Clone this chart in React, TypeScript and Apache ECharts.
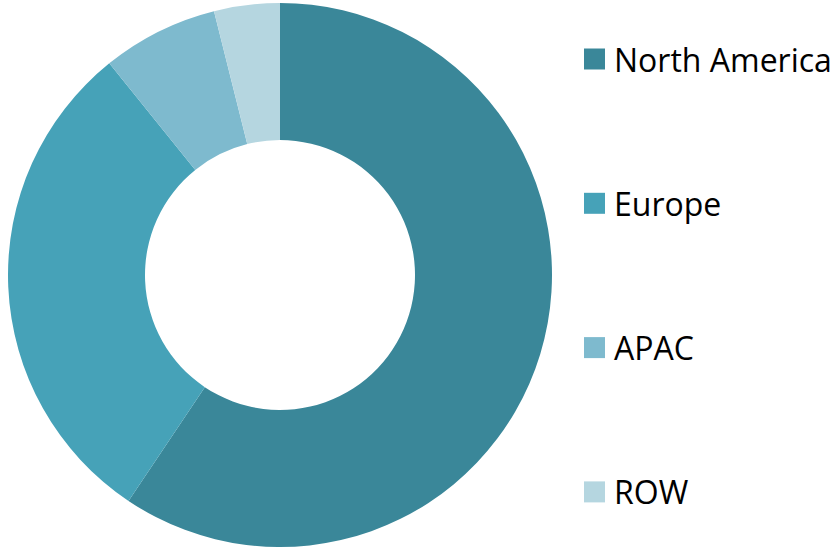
import React, { useEffect, useRef } from "react";
import * as echarts from "echarts";

const regions = ["North America", "Europe", "APAC", "ROW"];
const shares = [59.4, 29.8, 6.9, 3.9];
const colors = ["#3A8799", "#46A2B8", "#7EBACE", "#B5D6E0"];

export default function App() {
  const ref = useRef<HTMLDivElement>(null);
  useEffect(() => {
    const chart = echarts.init(ref.current!, null, { renderer: "svg" });
    chart.setOption({
      animation: false,
      color: colors,
      legend: {
        orient: "vertical",
        left: 579,
        top: 34,
        itemWidth: 21,
        itemHeight: 21,
        itemGap: 104.3,
        icon: "rect",
        data: regions,
        textStyle: {
          fontFamily: "Open Sans",
          fontSize: 32,
          color: "#000",
          lineHeight: 40,
          padding: [0, 0, 0, 4],
        },
      },
      series: [
        {
          type: "pie",
          center: [280, 275],
          radius: [135, 272],
          startAngle: 90,
          clockwise: true,
          label: { show: false },
          labelLine: { show: false },
          emphasis: { disabled: true },
          data: regions.map((name, i) => ({ name, value: shares[i] })),
        },
      ],
    });
    return () => chart.dispose();
  }, []);
  return (
    <div
      ref={ref}
      style={{ position: "fixed", left: 0, top: 0, width: 839, height: 549, background: "#fff" }}
    />
  );
}
